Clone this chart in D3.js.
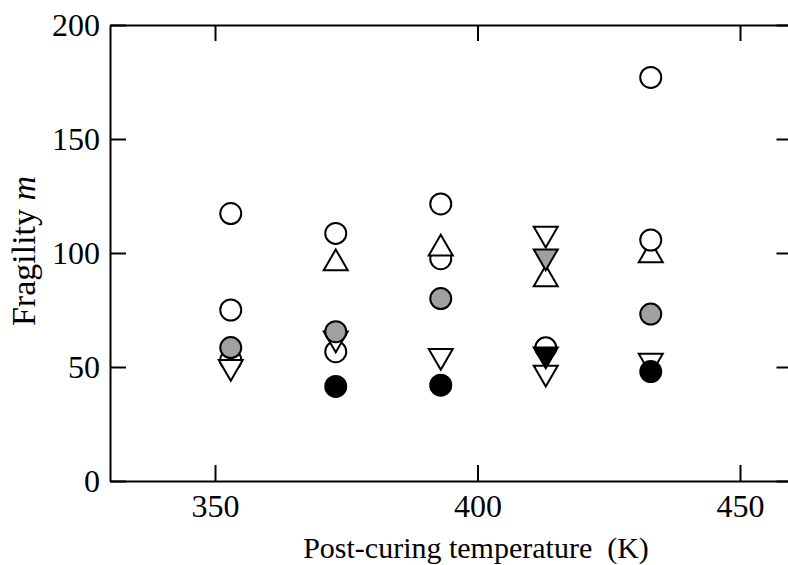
<!DOCTYPE html>
<html>
<head>
<meta charset="utf-8">
<script src="https://cdn.jsdelivr.net/npm/d3@7"></script>
<style>
  body { margin: 0; background: #fff; }
  svg text { font-family: "Liberation Serif", "Times New Roman", serif; fill: #000; }
</style>
</head>
<body>
<div id="chart"></div>
<script>
// values: [temperature (K), fragility m]
let openCircleUnder = [[353, 53], [393, 97.5]];
let openUpTriangle = [[373, 97], [393, 103.5], [413, 90], [433, 100.5]];
let openCircle = [[353, 117.3], [353, 75], [373, 108.6], [373, 56.7], [393, 121.5], [413, 58.4], [433, 177], [433, 105.7]];
let openDownTriangle = [[353, 48.5], [373, 61], [393, 53.3], [413, 107], [413, 46], [433, 51.3]];
let grayDownTriangle = [[413, 97]];
let blackDownTriangle = [[413, 54]];
let grayCircle = [[353, 58.5], [373, 65.5], [393, 80], [433, 73.2]];
let blackCircle = [[373, 41.5], [393, 42], [433, 48]];

let xTicks = [350, 400, 450];
let yTicks = [0, 50, 100, 150, 200];

let width = 788, height = 565;
let mLeft = 110, mRight = 792.5, mTop = 25, mBottom = 481;

let svg = d3.select('#chart')
    .append('svg')
    .attr('width', width)
    .attr('height', height);

let x = d3.scaleLinear().domain([330, 460]).range([mLeft, mRight]);
let y = d3.scaleLinear().domain([0, 200]).range([mBottom, mTop]);

function styleAxis(g)
{
    g.selectAll('path, line').attr('stroke', '#000').attr('stroke-width', 2);
    g.selectAll('text').attr('font-family', '"Liberation Serif", "Times New Roman", serif');
}

svg.append('g')
    .attr('transform', 'translate(0,' + mBottom + ')')
    .call(d3.axisBottom(x).tickValues(xTicks).tickSizeInner(-16).tickSizeOuter(0).tickPadding(13))
    .call(styleAxis)
    .selectAll('text').attr('font-size', '32px');

svg.append('g')
    .attr('transform', 'translate(0,' + mTop + ')')
    .call(d3.axisTop(x).tickValues(xTicks).tickSizeInner(-16).tickSizeOuter(0).tickFormat(''))
    .call(styleAxis);

svg.append('g')
    .attr('transform', 'translate(' + mLeft + ',0)')
    .call(d3.axisLeft(y).tickValues(yTicks).tickSizeInner(-16).tickSizeOuter(0).tickPadding(10))
    .call(styleAxis)
    .selectAll('text').attr('font-size', '32px');

svg.append('g')
    .attr('transform', 'translate(' + mRight + ',0)')
    .call(d3.axisRight(y).tickValues(yTicks).tickSizeInner(-16).tickSizeOuter(0).tickFormat(''))
    .call(styleAxis);

svg.selectAll('.domain').attr('fill', 'none');

let circle = d3.symbol().type(d3.symbolCircle).size(Math.PI * 10.5 * 10.5);
let triSide = 24;
// down / up triangles drawn around the point (bounding box centred)
function triangle(up)
{
    let h = triSide * Math.sqrt(3) / 2;
    let s = up ? 1 : -1;
    return 'M0,' + (-s * h / 2) + 'L' + (triSide / 2) + ',' + (s * h / 2) + 'L' + (-triSide / 2) + ',' + (s * h / 2) + 'Z';
}

function draw(data, path, fill)
{
    svg.append('g')
        .selectAll('path')
        .data(data)
        .enter()
        .append('path')
        .attr('transform', function (d) { return 'translate(' + x(d[0]) + ',' + y(d[1]) + ')'; })
        .attr('d', path)
        .attr('fill', fill)
        .attr('stroke', '#000')
        .attr('stroke-width', 2);
}

draw(openCircleUnder, circle(), '#fff');
draw(openUpTriangle, triangle(true), '#fff');
draw(openCircle, circle(), '#fff');
draw(openDownTriangle, triangle(false), '#fff');
draw(grayDownTriangle, triangle(false), '#a0a0a0');
draw(blackDownTriangle, triangle(false), '#000');
draw(grayCircle, circle(), '#a0a0a0');
draw(blackCircle, circle(), '#000');

svg.append('text')
    .attr('x', 476)
    .attr('y', 558)
    .attr('text-anchor', 'middle')
    .attr('font-size', '30px')
    .attr('xml:space', 'preserve')
    .text('Post-curing temperature  (K)');

let ylab = svg.append('text')
    .attr('transform', 'translate(35,251) rotate(-90)')
    .attr('text-anchor', 'middle')
    .attr('font-size', '34px');
ylab.append('tspan').text('Fragility ');
ylab.append('tspan').attr('font-style', 'italic').text('m');
</script>
</body>
</html>
